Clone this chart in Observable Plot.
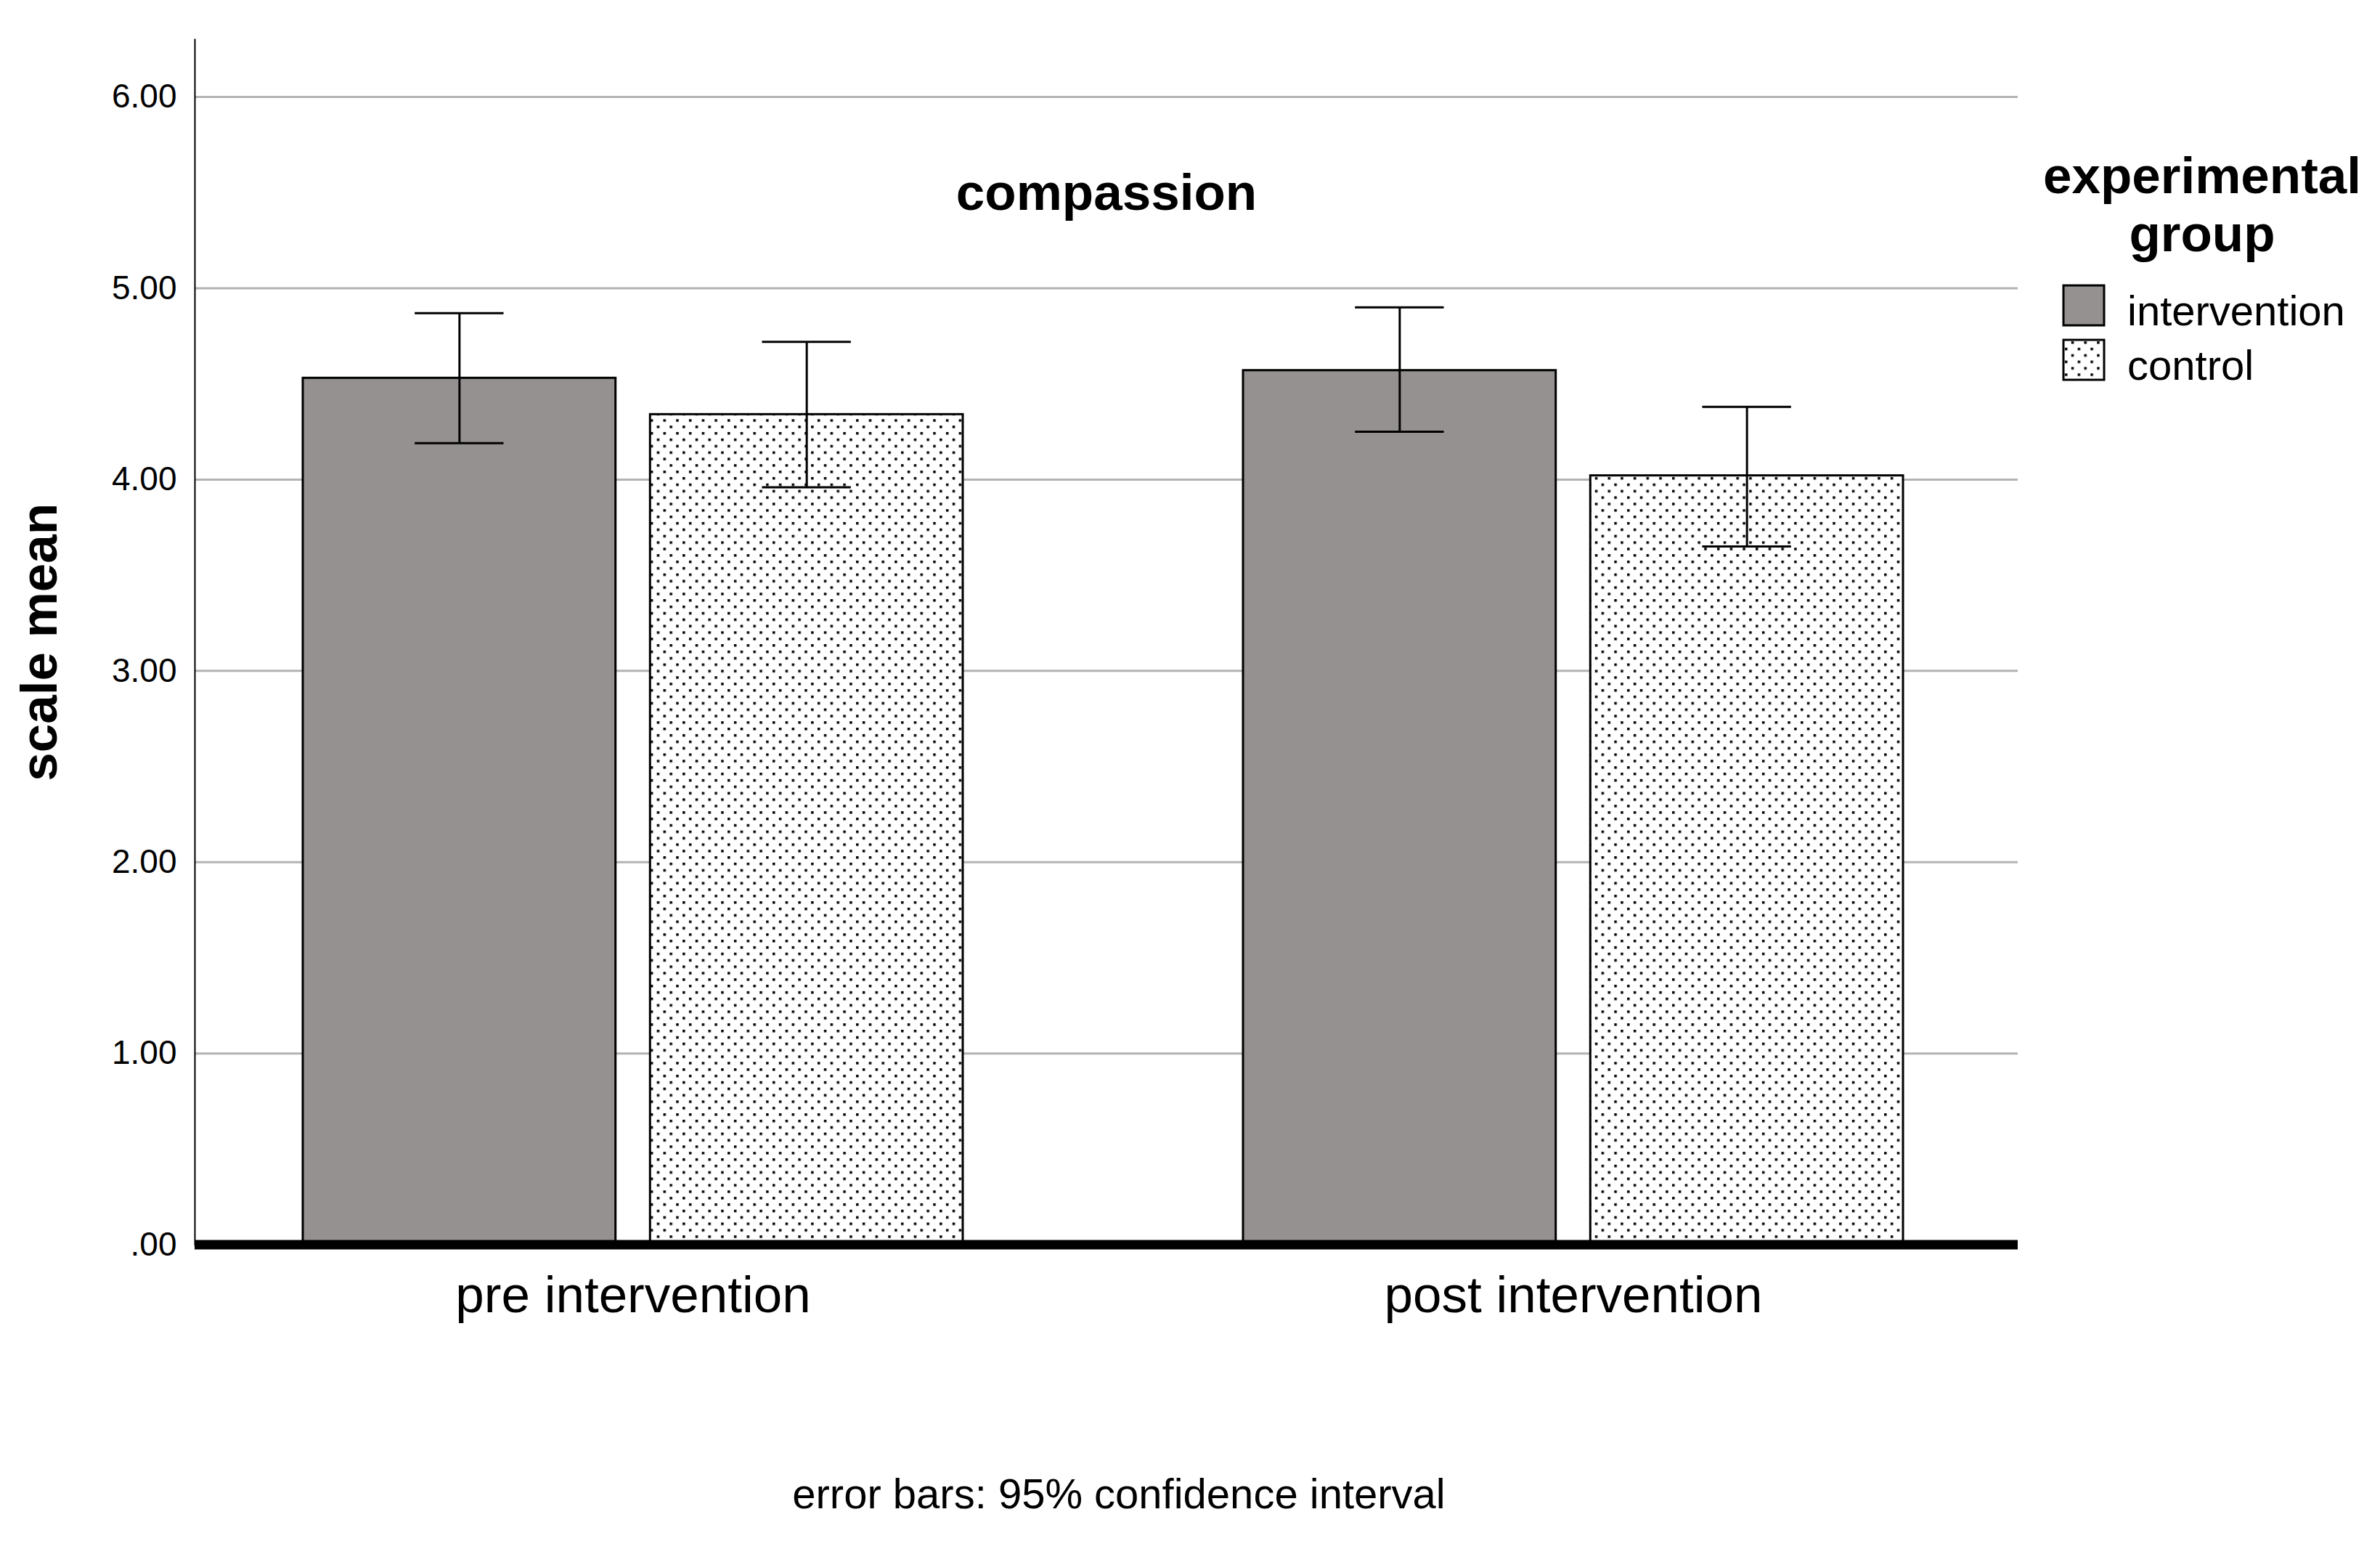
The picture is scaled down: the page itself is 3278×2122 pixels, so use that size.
<!DOCTYPE html>
<html>
<head>
<meta charset="utf-8">
<script src="https://cdn.jsdelivr.net/npm/d3@7"></script>
<script src="https://cdn.jsdelivr.net/npm/@observablehq/plot@0.6"></script>
<style>
  html, body { margin: 0; padding: 0; background: #fff; }
  #page { position: relative; width: 3278px; height: 2122px; background: #fff; font-family: "Liberation Sans", Arial, sans-serif; }
  #chart { position: absolute; left: 0; top: 0; }
  #legend { position: absolute; left: 2780px; top: 0; }
  #caption { position: absolute; left: 541px; width: 2000px; top: 2028px; text-align: center; font-size: 58px; line-height: 58px; color: #000; }
</style>
</head>
<body>
<svg width="0" height="0" style="position:absolute">
  <defs>
    <pattern id="dots" width="17.7" height="17.7" patternUnits="userSpaceOnUse">
      <rect width="17.7" height="17.7" fill="#fff"></rect>
      <rect x="2" y="2" width="3.5" height="3.5" fill="#000"></rect>
      <rect x="10.85" y="10.85" width="3.5" height="3.5" fill="#000"></rect>
    </pattern>
  </defs>
</svg>
<div id="page">
  <div id="chart"></div>
  <svg id="legend" width="498" height="600"></svg>
  <div id="caption">error bars: 95% confidence interval</div>
</div>
<script>
// ---- data ----
const times = ["pre intervention", "post intervention"];
const groups = ["intervention", "control"];
const interventionMean = [4.53, 4.57];
const interventionLo = [4.19, 4.25];
const interventionHi = [4.87, 4.90];
const controlMean = [4.34, 4.02];
const controlLo = [3.96, 3.65];
const controlHi = [4.72, 4.38];
const yTicks = [0, 1, 2, 3, 4, 5, 6];
const chartTitle = "compassion";
const yLabel = "scale mean";
const legendTitle = ["experimental", "group"];

const interventionRows = times.map((t, i) => ({time: t, mean: interventionMean[i], lo: interventionLo[i], hi: interventionHi[i]}));
const controlRows = times.map((t, i) => ({time: t, mean: controlMean[i], lo: controlLo[i], hi: controlHi[i]}));

// ---- layout ----
const W = 3278, H = 1900, mL = 268, mR = 499, mT = 54, mB = 186.4;
const pI = 0.298, pO = 0.118;
const bw = (W - mL - mR) / (2 - pI + 2 * pO) * (1 - pI);
const gap = bw * 0.0517;
const barW = (bw - gap) / 2;
const capW = barW * 0.285;
const capIn = (barW - capW) / 2;
const off = bw / 2 - barW / 2;

const gray = "#959190";
const font = "'Liberation Sans', Arial, sans-serif";

const plot = Plot.plot({
  width: W, height: H,
  marginLeft: mL, marginRight: mR, marginTop: mT, marginBottom: mB,
  style: {fontFamily: font, color: "#000", background: "#fff"},
  x: {type: "band", domain: times, paddingInner: pI, paddingOuter: pO, align: 0.487, axis: null},
  y: {domain: [0, 6.3], axis: null},
  marks: [
    Plot.ruleY(yTicks.filter(d => d > 0), {stroke: "#b3b3b3", strokeWidth: 3}),
    Plot.barY(interventionRows, {x: "time", y: "mean", fill: gray, stroke: "#000", strokeWidth: 3, insetLeft: 0, insetRight: bw - barW}),
    Plot.barY(controlRows, {x: "time", y: "mean", fill: "url(#dots)", stroke: "#000", strokeWidth: 3, insetLeft: bw - barW, insetRight: 0}),
    Plot.ruleX(interventionRows, {x: "time", y1: "lo", y2: "hi", stroke: "#000", strokeWidth: 3, dx: -off}),
    Plot.ruleX(controlRows, {x: "time", y1: "lo", y2: "hi", stroke: "#000", strokeWidth: 3, dx: off}),
    Plot.tickY(interventionRows, {x: "time", y: "hi", stroke: "#000", strokeWidth: 3, insetLeft: capIn, insetRight: bw - capIn - capW}),
    Plot.tickY(interventionRows, {x: "time", y: "lo", stroke: "#000", strokeWidth: 3, insetLeft: capIn, insetRight: bw - capIn - capW}),
    Plot.tickY(controlRows, {x: "time", y: "hi", stroke: "#000", strokeWidth: 3, insetLeft: bw - capIn - capW, insetRight: capIn}),
    Plot.tickY(controlRows, {x: "time", y: "lo", stroke: "#000", strokeWidth: 3, insetLeft: bw - capIn - capW, insetRight: capIn}),
    Plot.ruleY([0], {stroke: "#000", strokeWidth: 13}),
    Plot.frame({anchor: "left", stroke: "#000", strokeWidth: 2}),
    Plot.axisY({ticks: yTicks, tickFormat: d => d === 0 ? ".00" : d.toFixed(2), tickSize: 0, tickPadding: 25, fontSize: 46, label: null}),
    Plot.axisX({tickSize: 0, tickPadding: 42, fontSize: 71, label: null}),
    Plot.text([yLabel], {text: d => d, frameAnchor: "left", textAnchor: "middle", lineAnchor: "middle", rotate: -90, dx: -213, fontSize: 71, fontWeight: "bold"}),
    Plot.text([chartTitle], {text: d => d, frameAnchor: "top", textAnchor: "middle", lineAnchor: "middle", dy: 212, fontSize: 71, fontWeight: "bold"})
  ]
});
document.getElementById("chart").appendChild(plot);

// ---- legend ----
const lg = d3.select("#legend").style("font-family", font);
lg.selectAll("text.t").data(legendTitle).join("text")
  .attr("class", "t")
  .attr("x", 253).attr("y", (d, i) => 266 + i * 80)
  .attr("text-anchor", "middle").attr("font-size", 71).attr("font-weight", "bold")
  .text(d => d);
const fills = [gray, "url(#dots)"];
const item = lg.selectAll("g.item").data(groups).join("g").attr("class", "item")
  .attr("transform", (d, i) => `translate(0,${393 + i * 75})`);
item.append("rect").attr("x", 62).attr("y", 0).attr("width", 56).attr("height", 55)
  .attr("fill", (d, i) => fills[i]).attr("stroke", "#000").attr("stroke-width", 3);
item.append("text").attr("x", 150).attr("y", 55).attr("font-size", 58).text(d => d);
</script>
</body>
</html>
